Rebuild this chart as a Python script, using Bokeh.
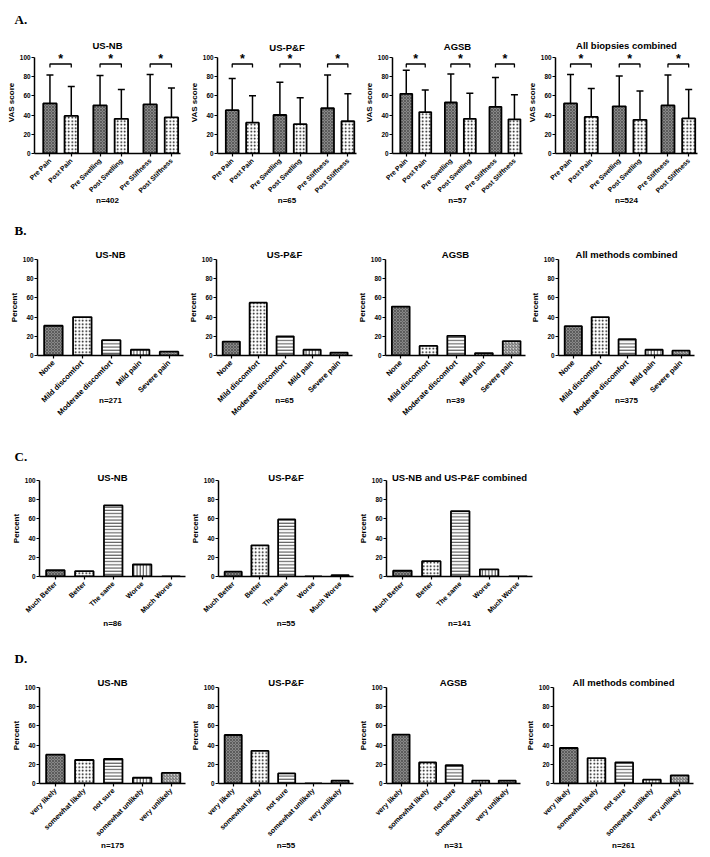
import math
from bokeh.plotting import figure
from bokeh.layouts import column, row
from bokeh.models import (FixedTicker, Range1d, ColumnDataSource, Whisker, TeeHead, Title)
from bokeh.embed import file_html
from bokeh.resources import INLINE
from bokeh.core.properties import value

# ---------------- data ----------------
vas_labels = ["Pre Pain", "Post Pain", "Pre Swelling", "Post Swelling", "Pre Stiffness", "Post Stiffness"]
vas_titles = ["US-NB", "US-P&F", "AGSB", "All biopsies combined"]
vas_n = ["n=402", "n=65", "n=57", "n=524"]
vas_mean_usnb = [52, 39, 50, 36, 51, 37.5]
vas_sd_usnb = [29.5, 30.5, 31, 30.5, 31, 30.5]
vas_mean_uspf = [45, 32, 40, 30.5, 47, 33.5]
vas_sd_uspf = [33, 28, 34, 27.5, 34.5, 28.5]
vas_mean_agsb = [62, 43, 53, 36, 48.5, 35.5]
vas_sd_agsb = [24.5, 23, 29.5, 26.5, 30.5, 25.5]
vas_mean_all = [52, 38, 49, 35, 50, 36.5]
vas_sd_all = [30, 29.5, 31.5, 30, 31.5, 30]

disc_labels = ["None", "Mild discomfort", "Moderate discomfort", "Mild pain", "Severe pain"]
disc_titles = ["US-NB", "US-P&F", "AGSB", "All methods combined"]
disc_n = ["n=271", "n=65", "n=39", "n=375"]
disc_usnb = [31, 40, 16, 6, 4]
disc_uspf = [14.5, 55, 20, 6, 3]
disc_agsb = [51, 10, 20.5, 2.5, 15]
disc_all = [30.5, 40, 17, 6, 5]

chg_labels = ["Much Better", "Better", "The same", "Worse", "Much Worse"]
chg_titles = ["US-NB", "US-P&F", "US-NB and US-P&F combined"]
chg_n = ["n=86", "n=55", "n=141"]
chg_usnb = [6.5, 5.5, 74, 12.5, 0]
chg_uspf = [5, 32.5, 59.5, 0, 1.5]
chg_comb = [6, 16, 68, 7.5, 0]

lik_labels = ["very likely", "somewhat likely", "not sure", "somewhat unlikely", "very unlikely"]
lik_titles = ["US-NB", "US-P&F", "AGSB", "All methods combined"]
lik_n = ["n=175", "n=55", "n=31", "n=261"]
lik_usnb = [30, 24.5, 25.5, 6, 11]
lik_uspf = [50.5, 34, 10.5, 0, 3]
lik_agsb = [51, 22, 19, 3, 3]
lik_all = [37, 26.5, 22, 4, 8.5]

y_ticks = [0, 20, 40, 60, 80, 100]
sections = ["A.", "B.", "C.", "D."]

# ---------------- styling ----------------
FONT = "Liberation Sans"
PATTERNS = [  # fill, hatch, hatch colour, scale, weight
    ("#888888", "diagonal_cross", "#505050", 3, 0.8),
    ("white", "dot", "black", 3.5, 2.0),
    ("white", "horizontal_line", "#444444", 3.2, 1.0),
    ("white", "vertical_line", "#444444", 3.2, 1.0),
    ("#d0d0d0", "right_diagonal_line", "#666666", 3, 1.0),
]


def make_fig(lay, vert, x_range, y_end, title, xlabel, ylabel, ticks, labels,
             lab_size, xlab_standoff, title_standoff, section=None, section_standoff=0):
    L, fw, R = lay
    T, fh, B = vert
    p = figure(frame_width=fw, frame_height=fh, x_range=x_range,
               y_range=Range1d(0, y_end), title=None,
               output_backend="svg", toolbar_location=None, tools="")
    p.min_border_left, p.min_border_right = L, R
    p.min_border_top, p.min_border_bottom = T, B
    p.xgrid.visible = False
    p.ygrid.visible = False
    p.outline_line_color = None
    p.background_fill_color = "white"
    p.border_fill_color = "white"
    p.add_layout(Title(text=title, align="center", text_font=FONT, text_font_size="9.5px",
                       text_font_style="bold", text_color="black",
                       standoff=title_standoff), "above")
    if section is not None:
        p.add_layout(Title(text=section, align="left", offset=-(L - 14),
                           text_font="Liberation Serif", text_font_size="13px",
                           text_font_style="bold", text_color="black",
                           standoff=section_standoff), "above")
    for ax in p.axis:
        ax.axis_line_width = 1.5
        ax.axis_line_color = "black"
        ax.major_tick_line_width = 1.2
        ax.major_tick_line_color = "black"
        ax.major_tick_out = 3
        ax.major_tick_in = 0
        ax.minor_tick_line_color = None
        ax.major_label_text_font = FONT
        ax.major_label_text_font_style = "bold"
        ax.major_label_text_color = "black"
        ax.major_label_standoff = 1
        ax.axis_label_text_font = FONT
        ax.axis_label_text_font_style = "bold"
        ax.axis_label_text_color = "black"
        ax.axis_label_text_font_size = "8px"
        ax.axis_label_standoff = 1
    p.yaxis.ticker = FixedTicker(ticks=y_ticks)
    p.yaxis.bounds = (0, 100)
    p.yaxis.major_label_text_font_size = "6.4px"
    p.yaxis.axis_label = ylabel
    p.xaxis.ticker = FixedTicker(ticks=ticks)
    p.xaxis.major_label_overrides = {t: l for t, l in zip(ticks, labels)}
    p.xaxis.major_label_orientation = math.pi / 4
    p.xaxis.major_label_standoff = 3
    p.xaxis.major_label_text_font_size = lab_size
    p.xaxis.axis_label = xlabel
    p.xaxis.axis_label_standoff = xlab_standoff
    return p


def bar_source(xs, tops, styles):
    return ColumnDataSource(dict(
        x=xs, top=tops,
        fill=[PATTERNS[s][0] for s in styles],
        hatch=[PATTERNS[s][1] for s in styles],
        hcol=[PATTERNS[s][2] for s in styles],
        hscale=[PATTERNS[s][3] for s in styles],
        hweight=[PATTERNS[s][4] for s in styles],
    ))


def draw_bars(p, src, width):
    p.vbar(x="x", top="top", width=width, source=src, fill_color="fill",
           hatch_pattern="hatch", hatch_color="hcol", hatch_scale="hscale",
           hatch_weight="hweight", line_color="black", line_width=1.8)


# ---------------- panel A ----------------
VAS_X = [0, 20, 47, 67, 94, 114]          # grouped positions (pre/post pairs)
VAS_STY = [0, 1, 0, 1, 0, 1]
BRACKET_Y, BRACKET_LEG = 93, 89.5
# horizontal: (min_border_left, frame_width, min_border_right); vertical: (top, frame_height, bottom)
A_LAYOUT = [(34, 146, 6), (26, 139, 5), (26, 130, 2), (26, 142, 3)]
A_VERT = (49, 102, 57)
A_TITLE_STANDOFF = [2, -3, 0, 1]
vas_means = [vas_mean_usnb, vas_mean_uspf, vas_mean_agsb, vas_mean_all]
vas_sds = [vas_sd_usnb, vas_sd_uspf, vas_sd_agsb, vas_sd_all]

rowA = []
for i in range(4):
    p = make_fig(A_LAYOUT[i], A_VERT, Range1d(-14.5, 122.5), 106, vas_titles[i],
                 vas_n[i], "VAS score", VAS_X, vas_labels, "6.8px", -3,
                 A_TITLE_STANDOFF[i], sections[0] if i == 0 else None, 19)
    src = bar_source(VAS_X, vas_means[i], VAS_STY)
    src.data["upper"] = [m + s for m, s in zip(vas_means[i], vas_sds[i])]
    p.add_layout(Whisker(source=src, base="x", upper="upper", lower="top",
                         line_color="black", line_width=1.5,
                         upper_head=TeeHead(size=7, line_width=1.5, line_color="black"),
                         lower_head=None))
    draw_bars(p, src, 12.6)
    bx, by, sx = [], [], []
    for k in range(0, 6, 2):
        x0, x1 = VAS_X[k], VAS_X[k + 1]
        bx.append([x0, x0, x1, x1])
        by.append([BRACKET_LEG, BRACKET_Y, BRACKET_Y, BRACKET_LEG])
        sx.append((x0 + x1) / 2)
    p.multi_line(xs=bx, ys=by, line_color="black", line_width=1.3)
    p.text(x=sx, y=[98] * 3, text=["*"] * 3, text_font=value(FONT),
           text_font_style="bold", text_font_size="12.5px", text_align="center",
           text_baseline="middle", text_color="black")
    rowA.append(p)

# ---------------- panels B-D ----------------
CAT_X = [0, 1, 2, 3, 4]
CAT_STY = [0, 1, 2, 3, 4]


def cat_row(layout, vert, titles, ns, datasets, labels, lab_size, xlab_standoff,
            title_standoff, section, section_standoff):
    figs = []
    for i, vals in enumerate(datasets):
        p = make_fig(layout[i], vert, Range1d(-0.55, 4.5), 100, titles[i], ns[i],
                     "Percent", CAT_X, labels, lab_size, xlab_standoff, title_standoff,
                     section if i == 0 else None, section_standoff)
        draw_bars(p, bar_source(CAT_X, vals, CAT_STY), 0.64)
        figs.append(p)
    return figs


B_LAYOUT = [(37, 146, 2), (26, 136, 2), (26, 140, 2), (26, 136, 8)]
C_LAYOUT = [(39, 146, 2), (26, 135, 2), (26, 146, 165)]
D_LAYOUT = [(39, 146, 2), (26, 135, 2), (26, 134, 2), (26, 140, 9)]

rowB = cat_row(B_LAYOUT, (44, 96, 76), disc_titles, disc_n,
               [disc_usnb, disc_uspf, disc_agsb, disc_all],
               disc_labels, "7.5px", -27, -1, sections[1], 20)
rowC = cat_row(C_LAYOUT, (49, 96, 63), chg_titles, chg_n, [chg_usnb, chg_uspf, chg_comb],
               chg_labels, "7px", -1, -4, sections[2], 15)
rowD = cat_row(D_LAYOUT, (48, 96, 62), lik_titles, lik_n,
               [lik_usnb, lik_uspf, lik_agsb, lik_all],
               lik_labels, "7.2px", -3, -1, sections[3], 19)

layout = column(row(*rowA, spacing=0), row(*rowB, spacing=0),
                row(*rowC, spacing=0), row(*rowD, spacing=0), spacing=0)

open("out.html", "w").write(file_html(layout, INLINE))
